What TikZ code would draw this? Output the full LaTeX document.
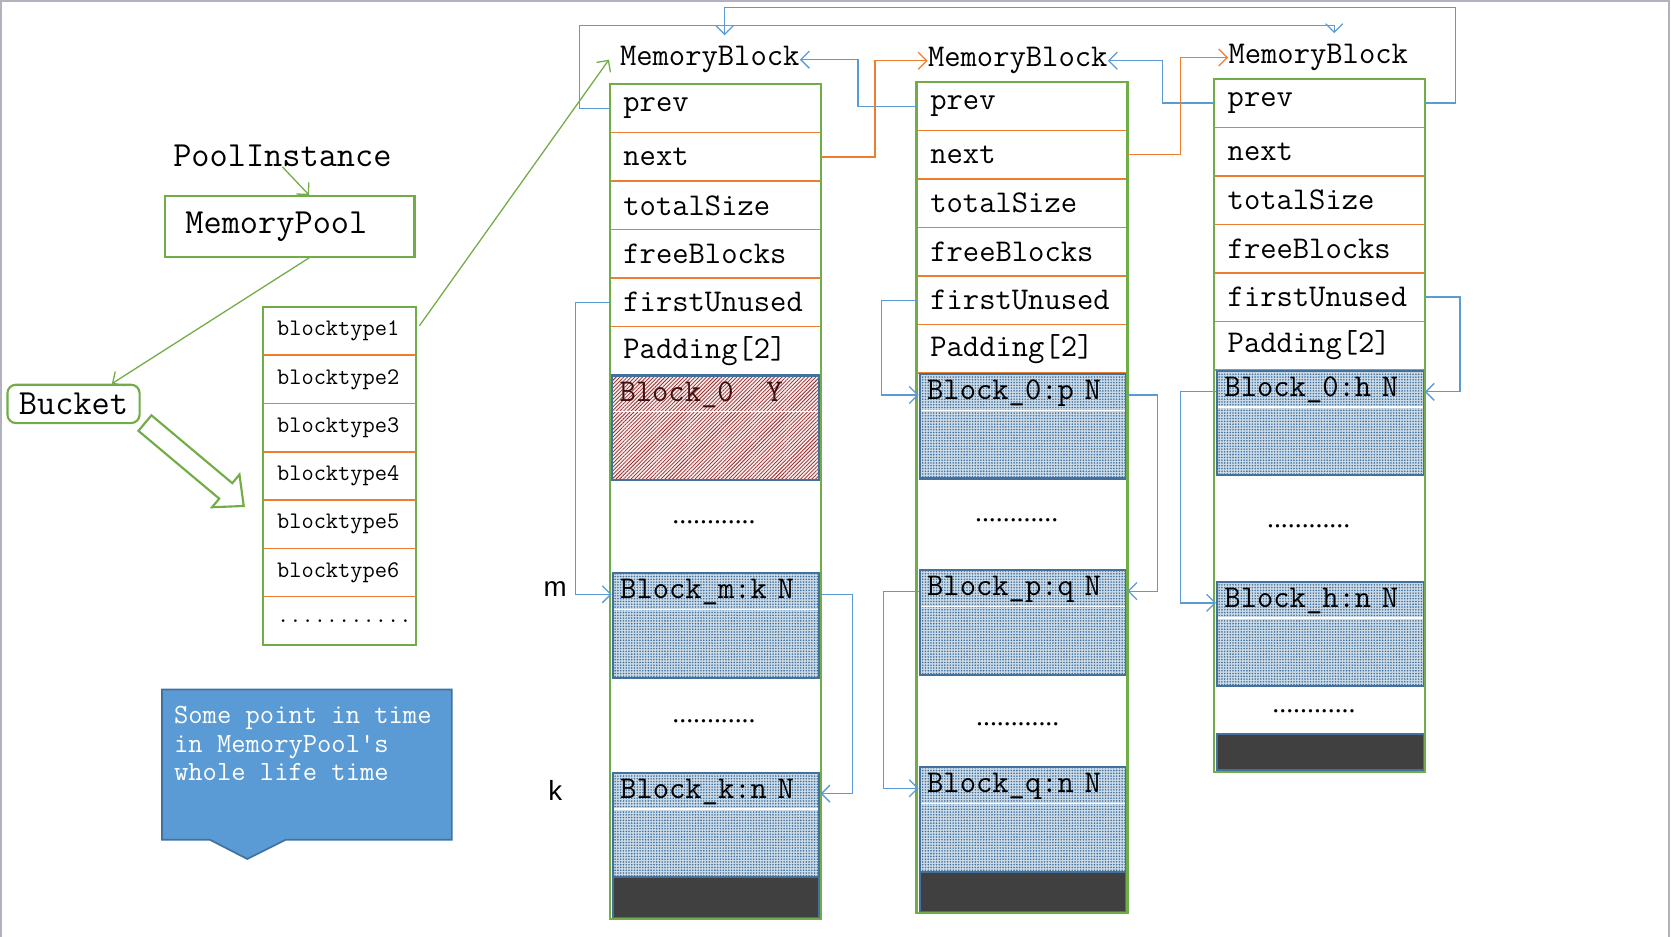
\documentclass[tikz,border=0pt]{standalone}
\usepackage{fontspec}
\setsansfont{Liberation Sans}
\newfontfamily\dotfont{Liberation Serif}
\usetikzlibrary{positioning,arrows.meta,patterns.meta}
\definecolor{mpgreen}{RGB}{112,173,71}
\definecolor{mporange}{RGB}{237,125,49}
\definecolor{mpblue}{RGB}{91,155,213}
\definecolor{mpedge}{RGB}{65,113,156}
\definecolor{mpdark}{RGB}{64,64,64}
\definecolor{mpgrey}{RGB}{178,178,188}
\definecolor{mpred}{RGB}{150,45,45}
\definecolor{mppink}{RGB}{250,236,236}
\definecolor{mpsky}{RGB}{205,219,232}
\begin{document}
\begin{tikzpicture}[x=0.5pt,y=-0.5pt,
    field/.style={draw=mporange,line width=0.7pt,outer sep=0pt,minimum width=99pt,minimum height=22.75pt,
      inner xsep=6.5pt,inner ysep=0pt,text width=86pt,align=left,font=\fontsize{14.86}{17}\ttfamily},
    typefield/.style={field,minimum width=71.5pt,minimum height=22.65pt,text width=58.5pt,
      font=\fontsize{11.14}{13}\ttfamily},
    blktitle/.style={inner xsep=0pt,inner ysep=5pt,font=\fontsize{14.86}{17}\ttfamily},
    colframe/.style={draw=mpgreen,line width=1pt},
    blk/.style={draw=mpedge,line width=1pt,anchor=north west,inner xsep=3.5pt,inner ysep=0pt,
      text width=90pt,text height=12pt,text depth=37pt,align=left,font=\fontsize{14.86}{17}\ttfamily,
      path picture={\draw[white,line width=0.7pt]
        ([yshift=-17pt]path picture bounding box.north west) -- ([yshift=-17pt]path picture bounding box.north east);}},
    freeblk/.style={blk,preaction={fill=mpsky},pattern={Dots[distance=1.3pt,radius=0.42pt]},pattern color=mpedge},
    usedblk/.style={blk,preaction={fill=mppink},pattern={Lines[angle=45,distance=1.25pt,line width=0.35pt]},
      pattern color=mpred,text=mpred!40!black},
    endblk/.style={draw=mpedge,line width=1pt,fill=mpdark,anchor=north west,minimum width=97pt,inner sep=0pt},
    gap/.style={font=\fontsize{13}{15}\dotfont},
    link/.style={draw=mpblue,line width=0.6pt,-{Straight Barb[length=4pt,width=8pt]}},
    nextlink/.style={link,draw=mporange},
    poollink/.style={link,draw=mpgreen},
    poolbox/.style={draw=mpgreen,line width=1pt,minimum width=117pt,minimum height=28.5pt,
      inner xsep=9.5pt,text width=98pt,align=left,font=\fontsize{16.57}{19}\ttfamily}]
  \useasboundingbox (0,0) rectangle (1568,879);
  \draw[mpgrey,line width=1pt] (1,879) -- (1,1) -- (1566,1) -- (1566,879);

  \node[font=\fontsize{16.57}{19}\ttfamily,inner sep=0pt] (pi) at (265,146) {PoolInstance};
  \node[poolbox] (mp) at (272,212.5) {MemoryPool};
  \node[draw=mpgreen,line width=1pt,rounded corners=4pt,minimum width=62pt,minimum height=18pt,
    inner sep=0pt,font=\fontsize{16.57}{19}\ttfamily] (bk) at (69,379) {Bucket};

  \node[typefield,anchor=north west] (bt1) at (247,288) {blocktype1};
  \node[typefield,below=0pt of bt1] (bt2) {blocktype2};
  \node[typefield,below=0pt of bt2] (bt3) {blocktype3};
  \node[typefield,below=0pt of bt3] (bt4) {blocktype4};
  \node[typefield,below=0pt of bt4] (bt5) {blocktype5};
  \node[typefield,below=0pt of bt5] (bt6) {blocktype6};
  \node[typefield,below=0pt of bt6] (bt7) {...........};
  \draw[colframe] (bt1.north west) rectangle (bt7.south east);

  \node[blktitle] (m1) at (666,56) {MemoryBlock};
  \node[field,anchor=north west] (m1-prev) at (572,79) {prev};
  \node[field,below=0pt of m1-prev] (m1-next) {next};
  \node[field,below=0pt of m1-next] (m1-size) {totalSize};
  \node[field,below=0pt of m1-size] (m1-free) {freeBlocks};
  \node[field,below=0pt of m1-free] (m1-first) {firstUnused};
  \node[field,below=0pt of m1-first] (m1-pad) {Padding[2]};
  \node[usedblk] (m1-b0) at (574,352) {Block\_0\phantom{xx}Y};
  \node[gap] (m1-g1) at (670,490) {............};
  \node[freeblk] (m1-bm) at (574,537) {Block\_m:k N};
  \node[gap] (m1-g2) at (670,677) {............};
  \node[freeblk] (m1-bk) at (574,724) {Block\_k:n N};
  \node[endblk,minimum height=19pt] (m1-end) at (574,822) {};
  \draw[colframe] (m1-prev.north west) rectangle (m1-prev.east |- m1-end.south);

  \node[blktitle] (m2) at (955,57) {MemoryBlock};
  \node[field,anchor=north west] (m2-prev) at (860,77) {prev};
  \node[field,below=0pt of m2-prev] (m2-next) {next};
  \node[field,below=0pt of m2-next] (m2-size) {totalSize};
  \node[field,below=0pt of m2-size] (m2-free) {freeBlocks};
  \node[field,below=0pt of m2-free] (m2-first) {firstUnused};
  \node[field,below=0pt of m2-first] (m2-pad) {Padding[2]};
  \node[freeblk] (m2-b0) at (862,350) {Block\_0:p N};
  \node[gap] (m2-g1) at (954,488) {............};
  \node[freeblk] (m2-bp) at (862,534) {Block\_p:q N};
  \node[gap] (m2-g2) at (955,680) {............};
  \node[freeblk] (m2-bq) at (862,719) {Block\_q:n N};
  \node[endblk,minimum height=19pt] (m2-end) at (862,817) {};
  \draw[colframe] (m2-prev.north west) rectangle (m2-prev.east |- m2-end.south);

  \node[blktitle] (m3) at (1237,54) {MemoryBlock};
  \node[field,anchor=north west] (m3-prev) at (1139,74) {prev};
  \node[field,below=0pt of m3-prev] (m3-next) {next};
  \node[field,below=0pt of m3-next] (m3-size) {totalSize};
  \node[field,below=0pt of m3-size] (m3-free) {freeBlocks};
  \node[field,below=0pt of m3-free] (m3-first) {firstUnused};
  \node[field,below=0pt of m3-first] (m3-pad) {Padding[2]};
  \node[freeblk] (m3-b0) at (1141,347) {Block\_0:h N};
  \node[gap] (m3-g1) at (1228,494) {............};
  \node[freeblk] (m3-bh) at (1141,545) {Block\_h:n N};
  \node[gap] (m3-g2) at (1233,667) {............};
  \node[endblk,minimum height=17pt] (m3-end) at (1141,688) {};
  \draw[colframe] (m3-prev.north west) rectangle (m3-prev.east |- m3-end.south);

  \node[font=\fontsize{13}{15}\sffamily] (lm) at (521,553) {m};
  \node[font=\fontsize{13}{15}\sffamily] (lk) at (521,742) {k};

  \draw[poollink] (pi.south) -- ([xshift=9pt]mp.north);
  \draw[poollink] ([xshift=9pt]mp.south) -- ([xshift=18pt]bk.north);
  \draw[poollink,shorten <=3pt] (bt1.east) -- ([xshift=-5pt]m1.west);

  \draw[link] (m3-prev.east) -| ++(29,-90) -| ([xshift=7pt]m1.north);
  \draw[link] (m1-prev.west) -| ++(-28,-78) -| ([xshift=7.5pt]m3.north);
  \draw[link] (m2-prev.west) -- ++(-55,0) |- (m1.east);
  \draw[link] (m3-prev.west) -- ++(-48,0) |- (m2.east);
  \draw[nextlink] (m1-next.east) -- ++(51,0) |- (m2.west);
  \draw[nextlink] (m2-next.east) -- ++(50,0) |- (m3.west);

  \draw[link] (m1-first.west) -- ++(-32,0) |- (m1-bm.mid west);
  \draw[link] (m1-bm.mid east) -- ++(30,0) |- (m1-bk.mid east);
  \draw[link] (m2-first.west) -- ++(-33,0) |- (m2-b0.mid west);
  \draw[link] (m2-b0.mid east) -- ++(28,0) |- (m2-bp.mid east);
  \draw[link] (m2-bp.mid west) -- ++(-33,0) |- (m2-bq.mid west);
  \draw[link] (m3-first.east) -- ++(33,0) |- (m3-b0.mid east);
  \draw[link] (m3-b0.mid west) -- ++(-33,0) |- (m3-bh.mid west);

  \draw[mpgreen,line width=1pt,shift={(136,397)},rotate=-40]
    (0,9.5) -- (99,9.5) -- (99,20) -- (121,0) -- (99,-20) -- (99,-9.5) -- (0,-9.5) -- cycle;

  \draw[fill=mpblue,draw=mpedge,line width=0.8pt] (152,647) -- (424,647) -- (424,788) -- (268,788)
    -- (232,806) -- (197,788) -- (152,788) -- cycle;
  \node[anchor=north west,align=left,text=white,inner sep=0pt,font=\fontsize{13.03}{13.5}\ttfamily] (note)
    at (163,662) {Some point in time\\in MemoryPool's\\whole life time};
\end{tikzpicture}
\end{document}
